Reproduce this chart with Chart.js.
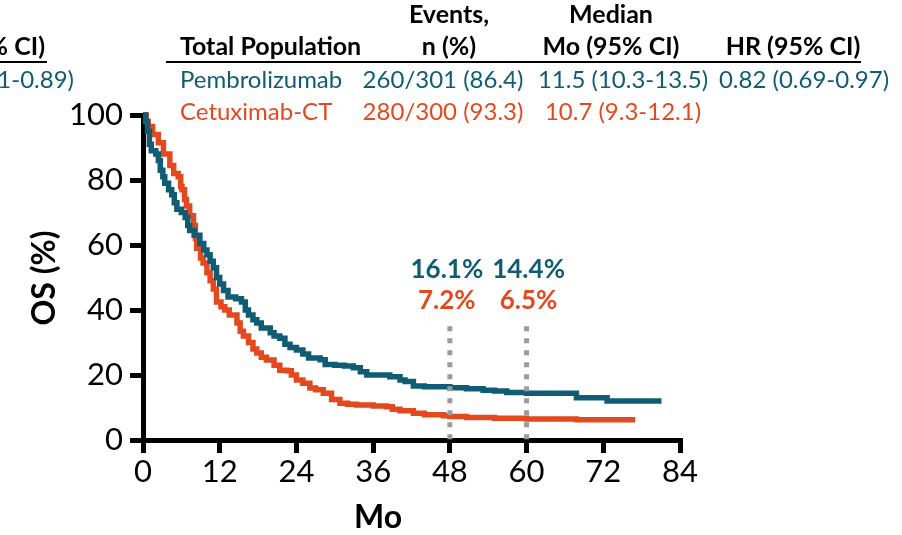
<!DOCTYPE html>
<html>
<head>
<meta charset="utf-8">
<script src="https://cdn.jsdelivr.net/npm/chart.js@4.4.1/dist/chart.umd.min.js"></script>
<style>
  html, body { margin: 0; padding: 0; background: #fff; }
  #osChart { display: block; }
</style>
</head>
<body>
<canvas id="osChart" width="902" height="535"></canvas>
<script>
// axis ticks
const monthTicks = [0, 12, 24, 36, 48, 60, 72, 84];
const pctTicks = [0, 20, 40, 60, 80, 100];

// Kaplan-Meier steps, pembrolizumab arm
const pembroMonths = [0, 0.4, 0.7, 1.0, 1.3, 2.0, 2.4, 2.7, 3.1, 3.4, 4.0, 4.5, 4.9, 5.3, 6.0, 6.6, 7.0, 7.3, 8.0, 8.9,
  9.5, 10.0, 10.5, 11.0, 11.5, 12.0, 12.6, 13.3, 14.5, 15.4, 16.0, 16.5, 17.2, 17.8, 18.5, 19.9, 20.5, 21.4, 22.2, 23.0,
  24.0, 25.0, 25.9, 27.7, 28.5, 30.0, 31.5, 32.9, 34.0, 35.0, 37.0, 38.6, 40.2, 41.0, 42.3, 44.0, 48.0, 50.6, 53.2, 55.0,
  56.9, 60.0, 66.8, 67.8, 72.6, 81.1];
const pembroOS = [100, 98, 95, 91, 89, 88, 86, 83, 81, 79, 77, 75.5, 73, 71, 70, 68.5, 66, 64.5, 63, 60.5,
  58.5, 57, 55, 53, 50, 48, 46, 44, 43.5, 42.5, 40, 38.5, 37, 36, 34.5, 33, 32, 31.3, 29.5, 28.5,
  27.7, 26.5, 25.2, 24.7, 23.2, 23, 22.8, 22.2, 21, 20, 20, 19.5, 18.5, 18, 16.6, 16.4, 16.1, 15.8, 15.3, 15.1,
  14.6, 14.4, 14.4, 13.0, 12.0, 12.0];

// Kaplan-Meier steps, cetuximab-CT arm
const cetuxMonths = [0, 0.5, 0.8, 1.5, 2.4, 3.2, 4.2, 4.8, 5.5, 5.9, 6.1, 6.5, 6.8, 7.3, 7.9, 8.2, 8.4, 9.0, 9.4, 10.0,
  10.5, 11.0, 11.5, 12.2, 12.8, 13.5, 14.7, 15.2, 15.7, 16.5, 17.2, 17.8, 18.5, 19.3, 20.5, 21.4, 22.5, 23.2, 24.0, 25.0,
  26.1, 27.0, 28.2, 29.5, 30.8, 32.0, 33.4, 36.0, 38.1, 39.0, 40.2, 42.3, 44.0, 47.0, 48.0, 50.6, 55.0, 60.0, 67.8, 77.0];
const cetuxOS = [100, 98, 96.5, 94, 91.5, 88, 84.5, 82, 81, 78, 77, 74, 72, 69, 66, 62, 59, 56, 54.5, 51.5,
  49, 46.5, 42.5, 41, 40, 38.5, 36, 33.5, 32, 30, 28, 26.8, 25.5, 24.6, 23, 21.5, 21.3, 20, 18.5, 17.5,
  16, 15.5, 14.4, 12.5, 11.3, 11, 10.8, 10.5, 10.2, 9.5, 9, 8.2, 7.8, 7.5, 7.2, 6.9, 6.7, 6.5, 6.2, 6.2];

// landmark survival rates
const landmarkMonths = [48, 60];
const pembroLandmark = [16.1, 14.4];
const cetuxLandmark = [7.2, 6.5];
const landmarkTop = 35;

// summary table
const headerTop = ['Events,', 'Median'];
const headerCols = ['Total Population', 'n (%)', 'Mo (95% CI)', 'HR (95% CI)'];
const arms = ['Pembrolizumab', 'Cetuximab-CT'];
const events = ['260/301 (86.4)', '280/300 (93.3)'];
const medians = ['11.5 (10.3-13.5)', '10.7 (9.3-12.1)'];
const hazard = ['0.82 (0.69-0.97)', ''];

const TEAL = '#0f5c74';
const ORANGE = '#e3491f';
const GREY = '#9b9b9b';
const FONT = 'Lato, "Open Sans", sans-serif';

const toPoints = (xs, ys) => xs.map((x, i) => ({ x: x, y: ys[i] }));

const landmarkSets = landmarkMonths.map(m => ({
  data: [{ x: m, y: landmarkTop }, { x: m, y: 0 }],
  borderColor: GREY,
  borderWidth: 5,
  borderDash: [5, 7],
  borderCapStyle: 'butt',
  pointRadius: 0,
  order: 0,
  clip: false
}));

const tablePlugin = {
  id: 'tableText',
  afterDraw(chart) {
    const ctx = chart.ctx;
    const xs = chart.scales.x, ys = chart.scales.y;
    ctx.save();
    ctx.textBaseline = 'alphabetic';

    // clipped piece of the neighbouring panel
    ctx.fillStyle = '#000';
    ctx.font = 'bold 25px ' + FONT;
    ctx.textAlign = 'right';
    ctx.fillText('% CI)', 45, 55);
    ctx.fillStyle = TEAL;
    ctx.font = '24px ' + FONT;
    ctx.fillText('1-0.89)', 74, 88);
    ctx.fillStyle = '#000';
    ctx.fillRect(0, 61, 47, 2);

    // header
    ctx.fillStyle = '#000';
    ctx.font = 'bold 25px ' + FONT;
    ctx.textAlign = 'center';
    ctx.fillText(headerTop[0], 449, 23);
    ctx.fillText(headerTop[1], 611, 23);
    ctx.textAlign = 'left';
    ctx.fillText(headerCols[0], 180, 55);
    ctx.textAlign = 'center';
    ctx.fillText(headerCols[1], 449, 55);
    ctx.fillText(headerCols[2], 611, 55);
    ctx.fillText(headerCols[3], 793, 55);
    ctx.fillRect(166, 61, 695, 2);

    // rows
    ctx.font = '24px ' + FONT;
    [TEAL, ORANGE].forEach((col, i) => {
      const yb = 88 + i * 32;
      ctx.fillStyle = col;
      ctx.textAlign = 'left';
      ctx.fillText(arms[i], 180, yb);
      ctx.textAlign = 'center';
      ctx.fillText(events[i], 443, yb);
      ctx.fillText(medians[i], 623, yb);
      if (hazard[i]) ctx.fillText(hazard[i], 804, yb);
    });

    // landmark rates above the dotted lines
    ctx.font = 'bold 26px ' + FONT;
    ctx.textAlign = 'center';
    landmarkMonths.forEach((m, i) => {
      const px = xs.getPixelForValue(m) + (i === 0 ? -3 : 2);
      ctx.fillStyle = TEAL;
      ctx.fillText(pembroLandmark[i].toFixed(1) + '%', px, ys.getPixelForValue(50));
      ctx.fillStyle = ORANGE;
      ctx.fillText(cetuxLandmark[i].toFixed(1) + '%', px, ys.getPixelForValue(40.3));
    });

    // axis titles
    ctx.fillStyle = '#000';
    ctx.font = 'bold 32px ' + FONT;
    ctx.textAlign = 'center';
    ctx.fillText('Mo', 378, 528);
    ctx.translate(55, 278);
    ctx.rotate(-Math.PI / 2);
    ctx.fillText('OS (%)', 0, 0);
    ctx.restore();
  }
};

new Chart(document.getElementById('osChart'), {
  type: 'line',
  data: {
    datasets: [
      {
        label: 'Pembrolizumab',
        data: toPoints(pembroMonths, pembroOS),
        borderColor: TEAL,
        borderWidth: 5.5,
        stepped: true,
        pointRadius: 0,
        order: 1,
        clip: false
      },
      {
        label: 'Cetuximab-CT',
        data: toPoints(cetuxMonths, cetuxOS),
        borderColor: ORANGE,
        borderWidth: 5.5,
        stepped: true,
        pointRadius: 0,
        order: 2,
        clip: false
      },
      ...landmarkSets
    ]
  },
  options: {
    responsive: false,
    animation: false,
    layout: { padding: { left: 0, top: 115, right: 222, bottom: 0 } },
    plugins: { legend: { display: false }, tooltip: { enabled: false } },
    scales: {
      x: {
        type: 'linear',
        min: 0, max: 84,
        afterBuildTicks: s => { s.ticks = monthTicks.map(v => ({ value: v })); },
        afterFit: s => { s.height = 95; },
        border: { color: '#000', width: 5 },
        grid: { drawOnChartArea: false, color: '#000', lineWidth: 5, tickLength: 13 },
        ticks: { color: '#000', font: { family: FONT, size: 31 }, padding: 0, maxRotation: 0 }
      },
      y: {
        min: 0, max: 100,
        afterBuildTicks: s => { s.ticks = pctTicks.map(v => ({ value: v })); },
        afterFit: s => { s.width = 143; },
        border: { color: '#000', width: 5 },
        grid: { drawOnChartArea: false, color: '#000', lineWidth: 5, tickLength: 13 },
        ticks: { color: '#000', font: { family: FONT, size: 31 }, padding: 7 }
      }
    }
  },
  plugins: [tablePlugin]
});
</script>
</body>
</html>
